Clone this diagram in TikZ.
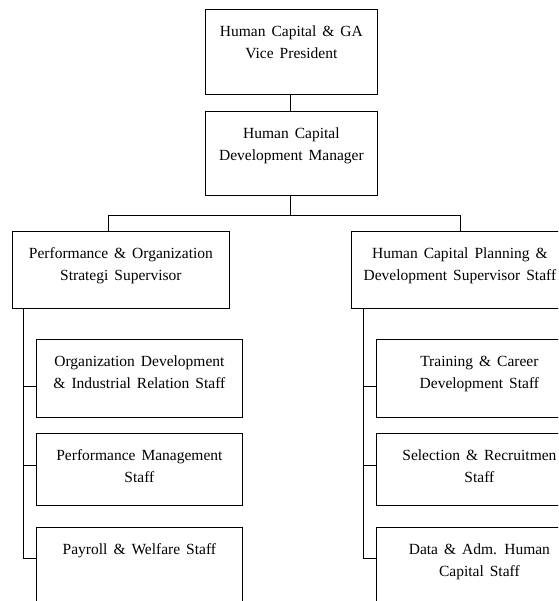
\documentclass[tikz,border=0pt]{standalone}
\usepackage{fontspec}
\setmainfont{Liberation Serif}
\newcommand\boxtxt[3]{\parbox[c][#2][t]{#1}{\centering\spaceskip=6pt\rule{0pt}{27pt}#3\par}}
\begin{document}
\begin{tikzpicture}[x=1pt,y=-1pt,
  orgbox/.style={draw, line width=0.8pt, anchor=north west, inner sep=0pt,
    font=\fontsize{15.5}{22}\selectfont},
  link/.style={line width=0.8pt}]
\clip (0,0) rectangle (558,601);
\fill[white] (0,0) rectangle (558,601);
\node[orgbox] (vp) at (205,9) {\boxtxt{172pt}{85pt}{Human Capital \& GA\\Vice President}};
\node[orgbox] (mgr) at (205,111) {\boxtxt{172pt}{84pt}{Human Capital\\Development Manager}};
\node[orgbox] (perf) at (12,231) {\boxtxt{217pt}{77pt}{Performance \& Organization\\Strategi Supervisor}};
\node[orgbox] (hcp) at (351,231) {\boxtxt{217pt}{77pt}{Human Capital Planning \&\\Development Supervisor Staff}};
\node[orgbox] (c1) at (36,339) {\boxtxt{206pt}{78pt}{Organization Development\\\& Industrial Relation Staff}};
\node[orgbox] (c2) at (36,433) {\boxtxt{206pt}{72pt}{Performance Management\\Staff}};
\node[orgbox] (c3) at (36,527) {\boxtxt{206pt}{90pt}{Payroll \& Welfare Staff}};
\node[orgbox] (r1) at (376,339) {\boxtxt{206pt}{78pt}{Training \& Career\\Development Staff}};
\node[orgbox] (r2) at (376,433) {\boxtxt{206pt}{72pt}{Selection \& Recruitmen\\Staff}};
\node[orgbox] (r3) at (376,527) {\boxtxt{206pt}{90pt}{Data \& Adm. Human\\Capital Staff}};
\coordinate (bl) at (108,215);
\coordinate (br) at (460,215);
\coordinate (l1) at (23,386);
\coordinate (l2) at (23,465);
\coordinate (l3) at (23,558);
\coordinate (q1) at (363,386);
\coordinate (q2) at (363,465);
\coordinate (q3) at (363,558);
\draw[link] (vp.south -| 290,0) -- (mgr.north -| 290,0);
\draw[link] (mgr.south -| 290,0) -- (bl -| 290,0);
\draw[link] (bl |- perf.north) -- (bl) -- (br) -- (br |- hcp.north);
\draw[link] (l1 |- perf.south) -- (l3);
\draw[link] (l1) -- (l1 -| c1.west);
\draw[link] (l2) -- (l2 -| c2.west);
\draw[link] (l3) -- (l3 -| c3.west);
\draw[link] (q1 |- hcp.south) -- (q3);
\draw[link] (q1) -- (q1 -| r1.west);
\draw[link] (q2) -- (q2 -| r2.west);
\draw[link] (q3) -- (q3 -| r3.west);
\end{tikzpicture}
\end{document}
